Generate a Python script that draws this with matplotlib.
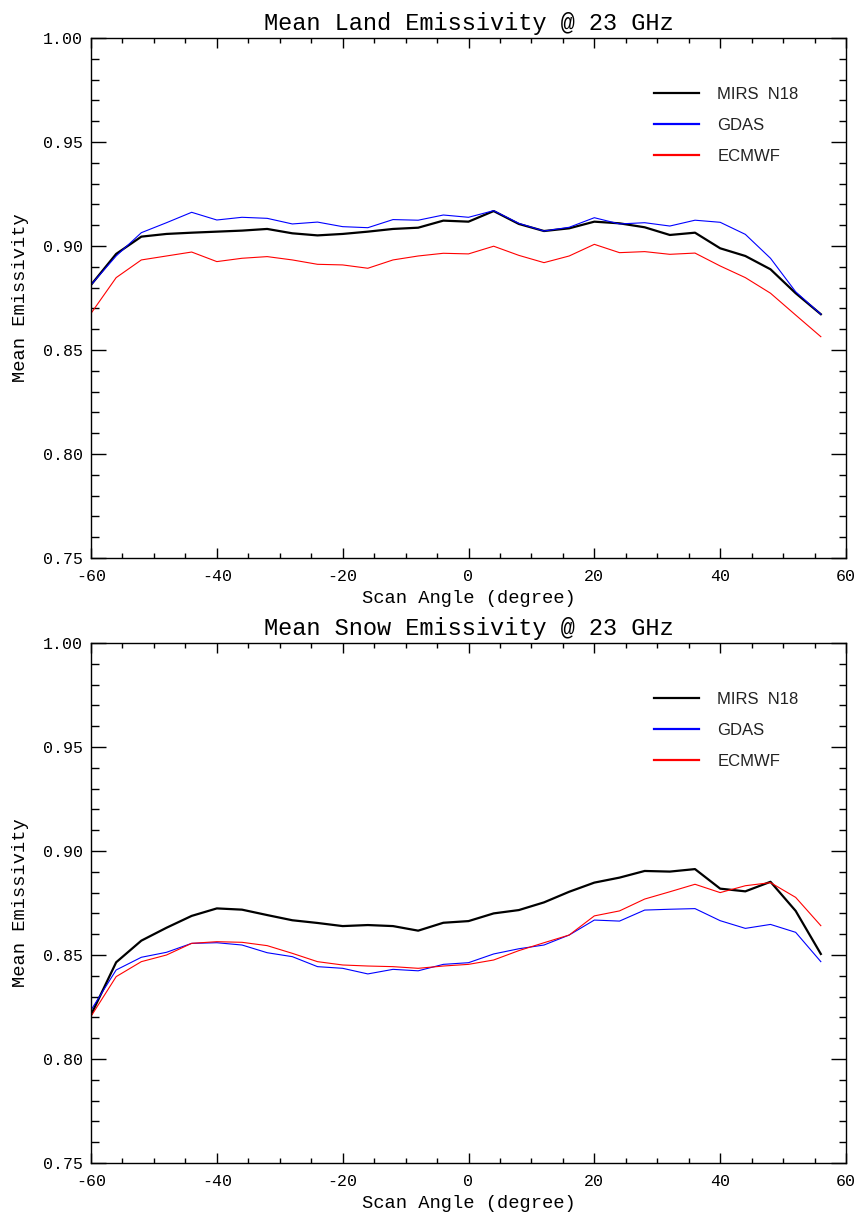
import matplotlib
matplotlib.use("Agg")
import matplotlib.pyplot as plt
from matplotlib.ticker import MultipleLocator, FormatStrFormatter

plt.rcParams["axes.unicode_minus"] = False

scan_angle = [-60, -56, -52, -48, -44, -40, -36, -32, -28, -24, -20, -16, -12, -8, -4,
              0, 4, 8, 12, 16, 20, 24, 28, 32, 36, 40, 44, 48, 52, 56]

land_mirs = [0.8813, 0.8962, 0.9045, 0.9058, 0.9064, 0.9069, 0.9074, 0.9082, 0.9061, 0.9051,
             0.9058, 0.9069, 0.9082, 0.9088, 0.9122, 0.9117, 0.9168, 0.9106, 0.9072, 0.9085,
             0.9117, 0.9109, 0.9090, 0.9053, 0.9064, 0.8989, 0.8952, 0.8888, 0.8773, 0.8672]
land_gdas = [0.8813, 0.8952, 0.9064, 0.9112, 0.9162, 0.9125, 0.9138, 0.9133, 0.9106, 0.9115,
             0.9093, 0.9088, 0.9127, 0.9124, 0.9149, 0.9138, 0.9170, 0.9109, 0.9072, 0.9090,
             0.9136, 0.9106, 0.9112, 0.9096, 0.9124, 0.9114, 0.9056, 0.8941, 0.8780, 0.8672]
land_ecmwf = [0.8676, 0.8848, 0.8933, 0.8952, 0.8971, 0.8925, 0.8941, 0.8949, 0.8933, 0.8912,
              0.8909, 0.8893, 0.8933, 0.8952, 0.8965, 0.8962, 0.8999, 0.8955, 0.8920, 0.8952,
              0.9008, 0.8968, 0.8973, 0.8960, 0.8966, 0.8904, 0.8848, 0.8773, 0.8668, 0.8564]

snow_mirs = [0.8212, 0.8465, 0.8569, 0.8631, 0.8688, 0.8724, 0.8718, 0.8692, 0.8667, 0.8654,
             0.8639, 0.8644, 0.8639, 0.8617, 0.8655, 0.8663, 0.8700, 0.8716, 0.8753, 0.8804,
             0.8848, 0.8872, 0.8904, 0.8901, 0.8913, 0.8819, 0.8806, 0.8852, 0.8712, 0.8505]
snow_gdas = [0.8235, 0.8428, 0.8489, 0.8513, 0.8556, 0.8559, 0.8548, 0.8511, 0.8492, 0.8444,
             0.8436, 0.8409, 0.8431, 0.8424, 0.8455, 0.8463, 0.8505, 0.8530, 0.8548, 0.8596,
             0.8668, 0.8663, 0.8716, 0.8720, 0.8723, 0.8665, 0.8628, 0.8647, 0.8609, 0.8468]
snow_ecmwf = [0.8205, 0.8396, 0.8468, 0.8500, 0.8556, 0.8564, 0.8561, 0.8545, 0.8508, 0.8468,
              0.8452, 0.8447, 0.8444, 0.8436, 0.8447, 0.8455, 0.8476, 0.8521, 0.8559, 0.8596,
              0.8688, 0.8712, 0.8769, 0.8804, 0.8840, 0.8800, 0.8833, 0.8848, 0.8777, 0.8641]

series_labels = ["MIRS  N18", "GDAS", "ECMWF"]
titles = ["Mean Land Emissivity @ 23 GHz", "Mean Snow Emissivity @ 23 GHz"]
xlabel = "Scan Angle (degree)"
ylabel = "Mean Emissivity"

MONO = "Liberation Mono"
SANS = "Liberation Sans"

W, H = 858, 1212
fig = plt.figure(figsize=(W / 100, H / 100), dpi=100)

def axes_rect(left, top, right, bottom):
    return [left / W, 1 - bottom / H, (right - left) / W, (bottom - top) / H]

panels = [
    (axes_rect(91, 38, 846, 558), titles[0], (land_mirs, land_gdas, land_ecmwf)),
    (axes_rect(91, 643, 846, 1163), titles[1], (snow_mirs, snow_gdas, snow_ecmwf)),
]

colors = ["black", "#0000ff", "#ff0000"]
widths = [1.6, 0.8, 0.8]

for rect, title, series in panels:
    ax = fig.add_axes(rect)
    for vals, c, lw, lab in zip(series, colors, widths, series_labels):
        ax.plot(scan_angle, vals, color=c, lw=lw, label=lab)
    ax.set_xlim(-60, 60)
    ax.set_ylim(0.75, 1.00)
    ax.xaxis.set_major_locator(MultipleLocator(20))
    ax.xaxis.set_minor_locator(MultipleLocator(5))
    ax.yaxis.set_major_locator(MultipleLocator(0.05))
    ax.yaxis.set_minor_locator(MultipleLocator(0.01))
    ax.yaxis.set_major_formatter(FormatStrFormatter("%.2f"))
    ax.tick_params(axis="both", which="both", direction="in", top=True, right=True,
                   width=1.0, color="black")
    ax.tick_params(axis="x", which="major", length=7.5, pad=8)
    ax.tick_params(axis="x", which="minor", length=3.7)
    ax.tick_params(axis="y", which="major", length=10.8, pad=6)
    ax.tick_params(axis="y", which="minor", length=5.4)
    for lab in ax.get_xticklabels() + ax.get_yticklabels():
        lab.set_fontfamily(MONO)
        lab.set_fontsize(12)
    for sp in ax.spines.values():
        sp.set_linewidth(1.0)
    ax.set_title(title, fontfamily=MONO, fontsize=17, pad=6)
    ax.set_xlabel(xlabel, fontfamily=MONO, fontsize=13.5, labelpad=4)
    ax.set_ylabel(ylabel, fontfamily=MONO, fontsize=13.5, labelpad=10)
    leg = ax.legend(loc="upper left", bbox_to_anchor=(0.7457, 0.906), frameon=False,
                    borderpad=0, borderaxespad=0, handlelength=2.7, handletextpad=1.1,
                    labelspacing=0.96, prop={"family": SANS, "size": 12})
    for t in leg.get_texts():
        t.set_color("#222222")
    for h in leg.get_lines():
        h.set_linewidth(1.6)

fig.savefig("out.png", dpi=100)
